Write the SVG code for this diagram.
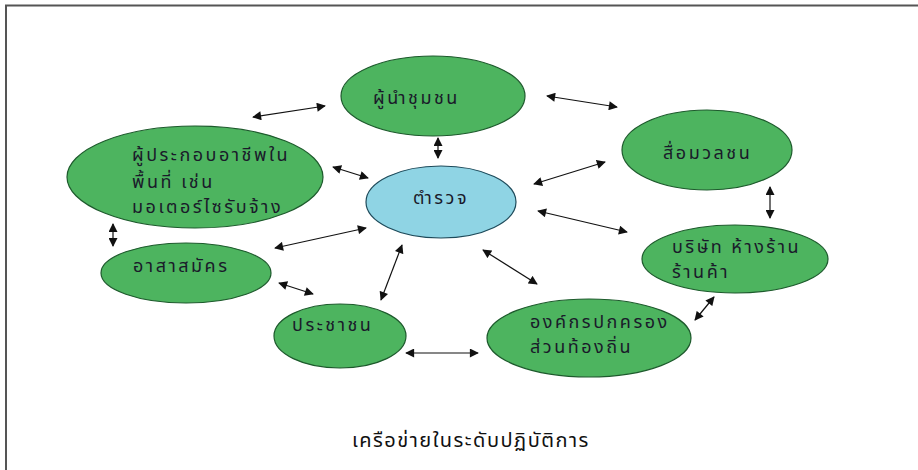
<svg xmlns="http://www.w3.org/2000/svg" width="918" height="470" viewBox="0 0 918 470">
<defs>
<marker id="ah" viewBox="0 0 10 10" refX="9" refY="5" markerWidth="10" markerHeight="9" markerUnits="userSpaceOnUse" orient="auto-start-reverse">
<path d="M0,0 L10,5 L0,10 z" fill="#111"/>
</marker>
<style>
.n{fill:#4db45f;stroke:#1d5a2c;stroke-width:1.2}
.c{fill:#8fd4e4;stroke:#1d4a5a;stroke-width:1.2}
.t{font-family:"Noto Sans Thai","Tahoma","Loma","Garuda","DejaVu Sans",sans-serif;font-size:18px;letter-spacing:2.5px;fill:#1a1a2a}
.cap{font-family:"Noto Sans Thai","Tahoma","Loma","Garuda","DejaVu Sans",sans-serif;font-size:20px;letter-spacing:1.5px;fill:#111}
.a{stroke:#111;stroke-width:1.2;fill:none;marker-start:url(#ah);marker-end:url(#ah)}
</style>
</defs>
<rect x="0" y="0" width="918" height="470" fill="#fff"/>
<path d="M6,470 V5.5 H918" fill="none" stroke="#555" stroke-width="2"/>
<g id="leader"><ellipse class="n" cx="433" cy="96" rx="92" ry="40"/><text class="t" x="373" y="104">ผู้นำชุมชน</text></g>
<g id="police"><ellipse class="c" cx="441" cy="202" rx="75" ry="36"/><text class="t" x="413" y="204">ตำรวจ</text></g>
<g id="occupation"><ellipse class="n" cx="195" cy="177" rx="128" ry="51"/><text class="t" x="132" y="161">ผู้ประกอบอาชีพใน</text><text class="t" x="132" y="188">พื้นที่ เช่น</text><text class="t" x="132" y="213">มอเตอร์ไซรับจ้าง</text></g>
<g id="media"><ellipse class="n" cx="707" cy="150" rx="85" ry="40"/><text class="t" x="663" y="159">สื่อมวลชน</text></g>
<g id="business"><ellipse class="n" cx="735" cy="259" rx="93" ry="34"/><text class="t" x="672" y="253">บริษัท ห้างร้าน</text><text class="t" x="672" y="278">ร้านค้า</text></g>
<g id="volunteer"><ellipse class="n" cx="186" cy="273" rx="85" ry="30"/><text class="t" x="133" y="272">อาสาสมัคร</text></g>
<g id="people"><ellipse class="n" cx="340" cy="336" rx="66" ry="32"/><text class="t" x="292" y="331">ประชาชน</text></g>
<g id="local"><ellipse class="n" cx="589" cy="338" rx="102" ry="39"/><text class="t" x="530" y="328">องค์กรปกครอง</text><text class="t" x="530" y="353">ส่วนท้องถิ่น</text></g>
<g id="connectors">
<line class="a" x1="253" y1="117" x2="325" y2="106"/>
<line class="a" x1="547" y1="96" x2="617" y2="107"/>
<line class="a" x1="438" y1="138" x2="438" y2="158"/>
<line class="a" x1="333" y1="167" x2="368" y2="178"/>
<line class="a" x1="534" y1="184" x2="605" y2="162"/>
<line class="a" x1="538" y1="211" x2="627" y2="232"/>
<line class="a" x1="770" y1="187" x2="770" y2="218"/>
<line class="a" x1="113" y1="224" x2="113" y2="246"/>
<line class="a" x1="275" y1="248" x2="366" y2="228"/>
<line class="a" x1="279" y1="283" x2="313" y2="294"/>
<line class="a" x1="402" y1="245" x2="381" y2="300"/>
<line class="a" x1="406" y1="353" x2="478" y2="353"/>
<line class="a" x1="483" y1="250" x2="537" y2="284"/>
<line class="a" x1="695" y1="320" x2="714" y2="297"/>
</g>
<text class="cap" x="352" y="447">เครือข่ายในระดับปฏิบัติการ</text>
</svg>
